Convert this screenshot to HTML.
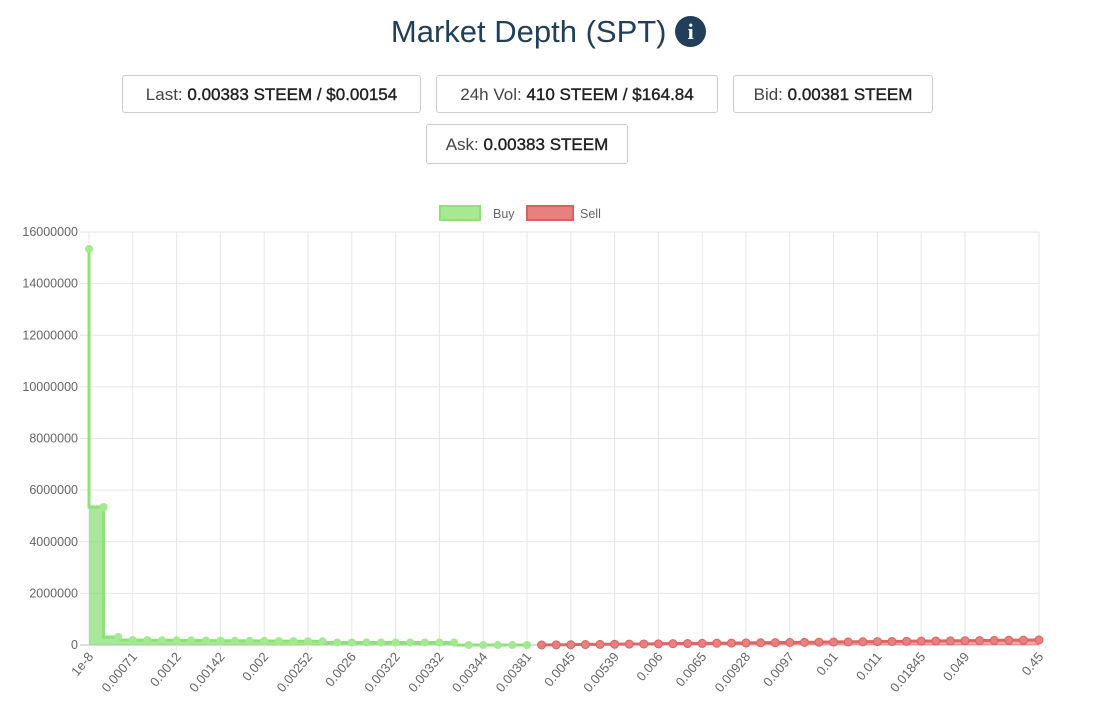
<!DOCTYPE html>
<html><head><meta charset="utf-8"><style>
body{margin:0;width:1097px;height:718px;background:#fff;font-family:"Liberation Sans",sans-serif;position:relative;overflow:hidden}
.t{position:absolute;left:0;width:1097px;text-align:center;top:14px;font-size:31px;color:#213f58}
.b{position:absolute;border:1px solid #ccc;border-radius:3px;height:38px;line-height:38px;text-align:center;font-size:17px;color:#444;box-sizing:border-box}
.b b{color:#222;font-weight:normal;-webkit-text-stroke:0.4px #222}
</style></head><body>
<div class="t">Market Depth (SPT) <span style="display:inline-block;width:31px;height:31px;border-radius:50%;background:#213f58;color:#fff;font-size:22px;line-height:31px;vertical-align:3px;font-weight:bold;font-family:'Liberation Serif',serif">i</span></div>
<div class="b" style="left:122px;top:75px;width:299px">Last: <b>0.00383 STEEM / $0.00154</b></div>
<div class="b" style="left:436px;top:75px;width:282px">24h Vol: <b>410 STEEM / $164.84</b></div>
<div class="b" style="left:733px;top:75px;width:200px">Bid: <b>0.00381 STEEM</b></div>
<div class="b" style="left:426px;top:124px;width:202px;height:40px;line-height:40px">Ask: <b>0.00383 STEEM</b></div>
<svg id="c" width="1097" height="718" style="position:absolute;left:0;top:0" font-family="Liberation Sans, sans-serif"></svg>
<script>
var s='',X0=89,X1=1039,Y0=645,Yt=232,dx=14.6;
function x(i){return i==65?X1:X0+i*dx;}
for(var k=0;k<=8;k++){var y=Y0-k*(Y0-Yt)/8;s+='<line x1="80" x2="1039" y1="'+y+'" y2="'+y+'" stroke="'+(k==0?'#bbb':'#e6e6e6')+'"/>';
s+='<text x="78" y="'+(y+4)+'" text-anchor="end" font-size="12.5" fill="#666">'+(k*2000000)+'</text>';}
var labs=['1e-8','0.00071','0.0012','0.00142','0.002','0.00252','0.0026','0.00322','0.00332','0.00344','0.00381','0.0045','0.00539','0.006','0.0065','0.00928','0.0097','0.01','0.011','0.01845','0.049','0.45'];
labs.forEach(function(l,j){var i=j==21?65:j*3;var xx=x(i);
s+='<line x1="'+xx+'" x2="'+xx+'" y1="'+Yt+'" y2="650" stroke="#e6e6e6"/>';
s+='<text transform="translate('+(xx+5)+',657) rotate(-50)" text-anchor="end" font-size="13" fill="#666">'+l+'</text>';});
var g=[249,507,637];for(var i=3;i<=30;i++){g.push(i<17?640+(i-3)*0.1:i<26?642.5:645);}
var r=[];for(var i=31;i<=65;i++){r.push(645-(i-31)*5/34);}
function step(pts,start){var d='M'+x(start)+','+pts[0];for(var i=1;i<pts.length;i++){d+=' L'+x(start+i-1)+','+pts[i]+' L'+x(start+i)+','+pts[i];}return d;}
var gd=step(g,0),rd=step(r,31);
s+='<path d="'+gd+' L'+x(30)+','+Y0+' L'+X0+','+Y0+'Z" fill="rgba(120,220,100,0.65)"/>';
s+='<path d="'+rd+' L'+X1+','+Y0+' L'+x(31)+','+Y0+'Z" fill="rgba(220,80,80,0.5)"/>';
s+='<path d="'+gd+'" fill="none" stroke="#8de07a" stroke-width="3"/>';
s+='<path d="'+rd+'" fill="none" stroke="#e06666" stroke-width="3"/>';
g.forEach(function(y,i){s+='<circle cx="'+x(i)+'" cy="'+y+'" r="4" fill="#a3e98f"/>';});
r.forEach(function(y,i){s+='<circle cx="'+x(31+i)+'" cy="'+y+'" r="4" fill="#e98080" stroke="#dd5f5f"/>';});
s+='<rect x="440" y="206" width="40" height="14" fill="#a6e993" stroke="#8de07a" stroke-width="2"/><text x="493" y="218" font-size="12.5" fill="#666">Buy</text>';
s+='<rect x="527" y="206" width="46" height="14" fill="#e98080" stroke="#dd5f5f" stroke-width="2"/><text x="580" y="218" font-size="12.5" fill="#666">Sell</text>';
document.getElementById('c').innerHTML=s;
</script>
</body></html>
